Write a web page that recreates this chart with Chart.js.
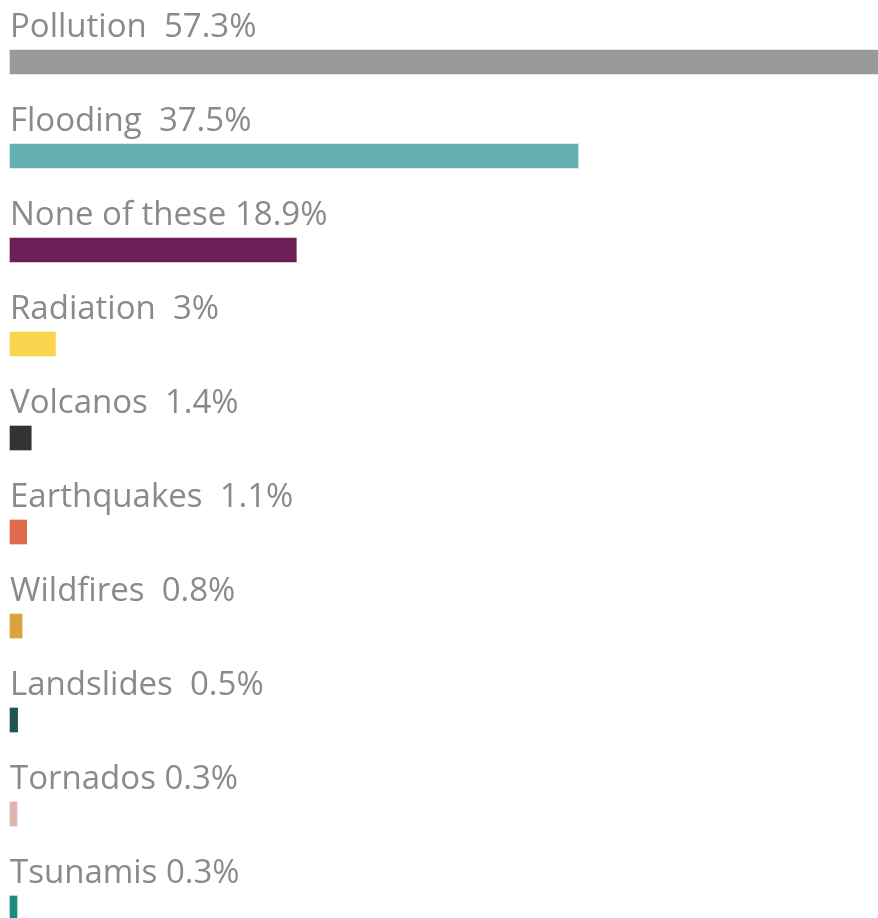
<!DOCTYPE html>
<html>
<head>
<meta charset="utf-8">
<script src="https://cdn.jsdelivr.net/npm/chart.js@4"></script>
<style>
    body { margin: 0; background: #fff; }
    #wrap { width: 878px; height: 918px; position: relative; }
</style>
</head>
<body>
<div id="wrap"><canvas id="myChart"></canvas></div>
<script>
const categories = ["Pollution", "Flooding", "None of these", "Radiation", "Volcanos",
    "Earthquakes", "Wildfires", "Landslides", "Tornados", "Tsunamis"];
const values = [57.3, 37.5, 18.9, 3, 1.4, 1.1, 0.8, 0.5, 0.3, 0.3];
const gaps = ["  ", "  ", " ", "  ", "  ", "  ", "  ", "  ", " ", " "];
const colors = ["#999999", "#64b0b3", "#6a1f58", "#fad44c", "#333333",
    "#e06c50", "#d9a43c", "#245156", "#e3b3ad", "#1b8b80"];

// draw "Name  xx%" above every bar
const labelPlugin = {
    id: "barLabels",
    afterDatasetsDraw(chart) {
        const ctx = chart.ctx;
        const meta = chart.getDatasetMeta(0);
        ctx.save();
        ctx.font = "33px 'Open Sans'";
        ctx.fillStyle = "#8a8a8a";
        ctx.textBaseline = "alphabetic";
        ctx.textAlign = "left";
        meta.data.forEach((bar, i) => {
            const txt = categories[i] + gaps[i] + values[i] + "%";
            ctx.fillText(txt, chart.chartArea.left, bar.y - 25);
        });
        ctx.restore();
    },
};

const ctx = document.getElementById("myChart");
const myChart = new Chart(ctx, {
    type: "bar",
    data: {
        labels: categories,
        datasets: [
            {
                data: values,
                backgroundColor: colors,
                borderWidth: 0,
                barThickness: 24,
                minBarLength: 7,
                clip: false,
            },
        ],
    },
    options: {
        indexAxis: "y",
        responsive: true,
        maintainAspectRatio: false,
        animation: false,
        layout: {
            padding: { left: 10, right: 0, top: 62, bottom: 10 },
        },
        plugins: {
            legend: { display: false },
            tooltip: { enabled: false },
        },
        scales: {
            x: { display: false, min: 0, max: 57.3 },
            y: { display: false, offset: false },
        },
    },
    plugins: [labelPlugin],
});
</script>
</body>
</html>
